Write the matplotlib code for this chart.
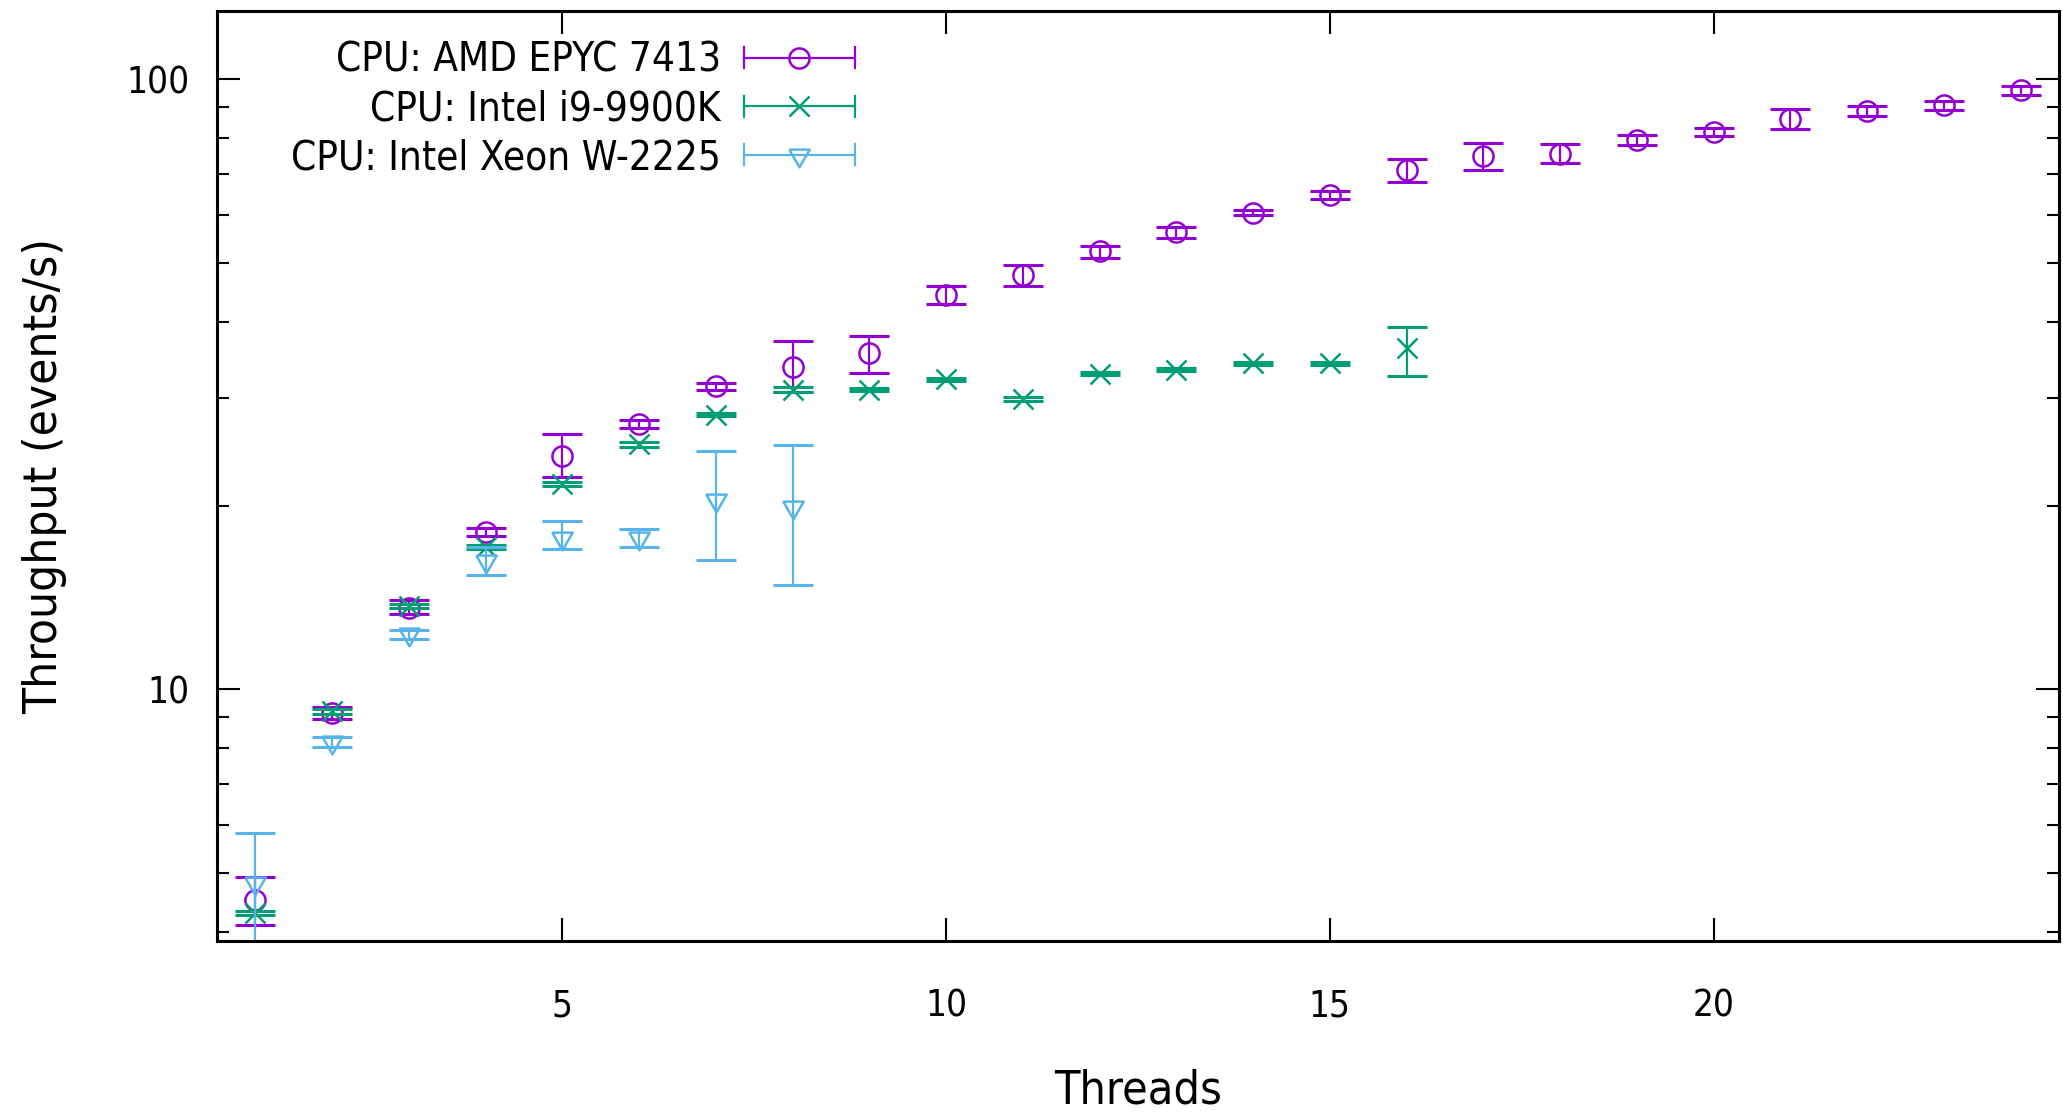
import matplotlib
matplotlib.use("Agg")
import matplotlib.pyplot as plt
from matplotlib.lines import Line2D
from matplotlib.legend_handler import HandlerBase
from matplotlib.ticker import FixedLocator, FixedFormatter, NullFormatter

plt.rcParams['font.family'] = ['DejaVu Sans']
plt.rcParams['font.stretch'] = 'condensed'

# ---------------- data ----------------
labels = ["CPU: AMD EPYC 7413", "CPU: Intel i9-9900K", "CPU: Intel Xeon W-2225"]
colors = ["#9400D3", "#009E73", "#56B4E9"]

amd_threads = list(range(1, 25))
amd_mean = [4.51, 9.15, 13.6, 18.1, 24.1, 27.2, 31.4, 33.7, 35.6, 44.3, 47.8, 52.2,
            56.2, 60.4, 64.6, 71.1, 74.8, 75.5, 79.4, 82.0, 86.2, 88.7, 90.6, 95.9]
amd_low = [4.10, 8.95, 13.3, 17.8, 22.3, 26.8, 31.0, 30.7, 33.0, 42.8, 45.8, 51.0,
           55.0, 59.8, 63.7, 67.9, 70.9, 73.0, 77.9, 80.7, 83.0, 87.1, 88.9, 94.1]
amd_high = [4.92, 9.35, 14.0, 18.4, 26.2, 27.6, 31.8, 37.2, 38.0, 45.9, 49.6, 53.3,
            57.3, 61.0, 65.5, 74.1, 78.6, 78.2, 80.9, 83.3, 89.5, 90.3, 92.0, 97.4]

i9_threads = list(range(1, 17))
i9_mean = [4.30, 9.2, 13.7, 17.1, 21.7, 25.2, 28.2, 31.0, 31.0, 32.2, 29.9, 32.9,
           33.4, 34.2, 34.2, 36.2]
i9_low = [4.27, 9.12, 13.6, 16.95, 21.5, 25.0, 28.0, 30.7, 30.8, 32.0, 29.7, 32.7,
          33.2, 34.0, 34.0, 32.6]
i9_high = [4.33, 9.28, 13.8, 17.25, 21.9, 25.4, 28.4, 31.3, 31.2, 32.4, 30.1, 33.1,
           33.6, 34.4, 34.4, 39.3]

xeon_threads = list(range(1, 9))
xeon_mean = [4.81, 8.18, 12.3, 16.2, 17.7, 17.7, 20.4, 19.9]
xeon_low = [3.7, 8.05, 12.1, 15.4, 16.96, 17.1, 16.3, 14.8]
xeon_high = [5.81, 8.34, 12.5, 17.1, 18.9, 18.3, 24.6, 25.1]

x_ticks = [5, 10, 15, 20]
y_ticks = [10, 100]
y_ticklabels = ["10", "100"]
y_minor = [4, 5, 6, 7, 8, 9, 20, 30, 40, 50, 60, 70, 80, 90]

# ---------------- figure ----------------
fig = plt.figure(figsize=(20.63, 11.18), dpi=100)
ax = fig.add_axes([0.1052, 0.1579, 0.8928, 0.8325])

tri = [(-1.0, 0.577), (1.0, 0.577), (0.0, -1.155), (-1.0, 0.577)]
markers = ['o', 'x', tri]
msizes = [14.5, 14, 17]
series = [
    (amd_threads, amd_mean, amd_low, amd_high),
    (i9_threads, i9_mean, i9_low, i9_high),
    (xeon_threads, xeon_mean, xeon_low, xeon_high),
]

handles = []
for (xs, m, lo, hi), c, mk, ms, lab in zip(series, colors, markers, msizes, labels):
    err = [[mv - l for mv, l in zip(m, lo)], [h - mv for mv, h in zip(m, hi)]]
    ax.errorbar(xs, m, yerr=err, fmt='none', ecolor=c, elinewidth=1.6,
                capsize=14.4, capthick=2.2)
    ax.plot(xs, m, linestyle='none', marker=mk, markersize=ms,
            markerfacecolor='none', markeredgecolor=c, markeredgewidth=1.8)
    handles.append(Line2D([], [], color=c, marker=mk, markersize=ms,
                          markeredgewidth=1.8, linewidth=1.6, label=lab))


class GnuHandler(HandlerBase):
    def create_artists(self, legend, orig_handle, xdescent, ydescent, width,
                       height, fontsize, trans):
        y = height / 2.0 - ydescent
        x0 = -xdescent
        x1 = -xdescent + width
        c = orig_handle.get_color()
        lw = orig_handle.get_linewidth()
        h = 7.6
        arts = [
            Line2D([x0, x1], [y, y], color=c, lw=lw),
            Line2D([x0, x0], [y - h, y + h], color=c, lw=lw),
            Line2D([x1, x1], [y - h, y + h], color=c, lw=lw),
            Line2D([(x0 + x1) / 2.0], [y], linestyle='none',
                   marker=orig_handle.get_marker(),
                   markersize=orig_handle.get_markersize(),
                   markeredgewidth=orig_handle.get_markeredgewidth(),
                   markerfacecolor='none', markeredgecolor=c),
        ]
        for a in arts:
            a.set_transform(trans)
        return arts


ax.set_yscale('log')
ax.set_xlim(0.5, 24.5)
ax.set_ylim(3.86, 129.5)

ax.xaxis.set_major_locator(FixedLocator(x_ticks))
ax.yaxis.set_major_locator(FixedLocator(y_ticks))
ax.yaxis.set_major_formatter(FixedFormatter(y_ticklabels))
ax.yaxis.set_minor_locator(FixedLocator(y_minor))
ax.yaxis.set_minor_formatter(NullFormatter())
ax.xaxis.set_minor_locator(FixedLocator([]))

ax.tick_params(axis='both', which='major', direction='in', length=16.5, width=1.5,
               top=True, right=True, labelsize=26.5)
ax.tick_params(axis='both', which='minor', direction='in', length=8.6, width=1.5,
               top=False, right=True)
ax.tick_params(axis='x', which='major', pad=33.5)
ax.tick_params(axis='y', which='major', pad=20)
for sp in ax.spines.values():
    sp.set_linewidth(2.2)

ax.set_xlabel("Threads", fontsize=33.5)
ax.set_ylabel("Throughput (events/s)", fontsize=34.2)
ax.xaxis.set_label_coords(0.5, -0.136)
ax.yaxis.set_label_coords(-0.0814, 0.5)

leg = ax.legend(handles=handles, labels=labels, loc='upper right',
                bbox_to_anchor=(0.3464, 0.9678), frameon=False, markerfirst=False,
                fontsize=29, handlelength=2.76, handletextpad=0.57,
                labelspacing=0.215, borderpad=0, borderaxespad=0,
                handler_map={Line2D: GnuHandler()})

fig.savefig("out.png", dpi=100)
